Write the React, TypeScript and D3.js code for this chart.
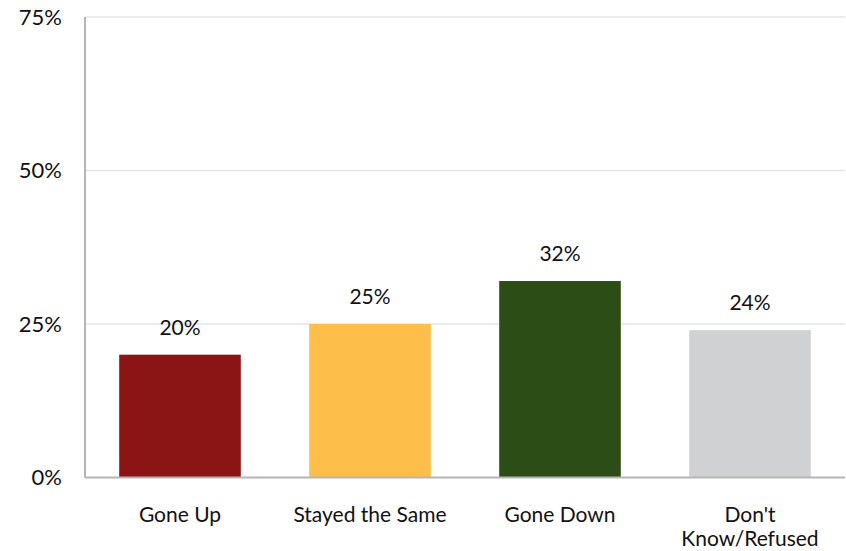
import React from "react";
import * as d3 from "d3";

const categories = ["Gone Up", "Stayed the Same", "Gone Down", "Don't\nKnow/Refused"];
const values = [20, 25, 32, 24];
const colors = ["#8B1515", "#FDBF4A", "#2D4D16", "#D0D1D3"];
const yTicks = [0, 25, 50, 75];

const W = 846;
const H = 551;
const margin = { left: 85, right: 1, top: 17, bottom: 73 };

export default function App() {
  const x = d3
    .scaleBand<string>()
    .domain(categories)
    .range([margin.left, W - margin.right])
    .paddingInner(0.36)
    .paddingOuter(0.18);
  const y = d3.scaleLinear().domain([0, 75]).range([H - margin.bottom - 0.5, margin.top]);
  const font = "Lato, 'Open Sans', sans-serif";
  return (
    <svg
      width={W}
      height={H}
      style={{ position: "absolute", left: 0, top: 0, background: "#fff" }}
      fontFamily={font}
    >
      {yTicks.map((t) => (
        <g key={t}>
          {t > 0 && (
            <line x1={margin.left} x2={W - margin.right} y1={y(t)} y2={y(t)} stroke="#e4e4e4" strokeWidth={1.5} />
          )}
          <text x={62} y={y(t)} dy="0.35em" textAnchor="end" fontSize={22} fill="#111">
            {t}%
          </text>
        </g>
      ))}
      {categories.map((c, i) => (
        <g key={c}>
          <rect x={x(c)} y={y(values[i])} width={x.bandwidth()} height={y(0) - y(values[i])} fill={colors[i]} />
          <text
            x={(x(c) as number) + x.bandwidth() / 2}
            y={y(values[i]) - 20}
            textAnchor="middle"
            fontSize={21}
            fill="#111"
          >
            {values[i]}%
          </text>
          {c.split("\n").map((line, j) => (
            <text
              key={j}
              x={(x(c) as number) + x.bandwidth() / 2}
              y={522 + j * 24}
              textAnchor="middle"
              fontSize={21}
              fill="#111"
            >
              {line}
            </text>
          ))}
        </g>
      ))}
      <line x1={margin.left} x2={margin.left} y1={margin.top} y2={y(0)} stroke="#b5b5b5" strokeWidth={2} />
      <line x1={margin.left} x2={W - margin.right} y1={y(0)} y2={y(0)} stroke="#b5b5b5" strokeWidth={2} />
    </svg>
  );
}
